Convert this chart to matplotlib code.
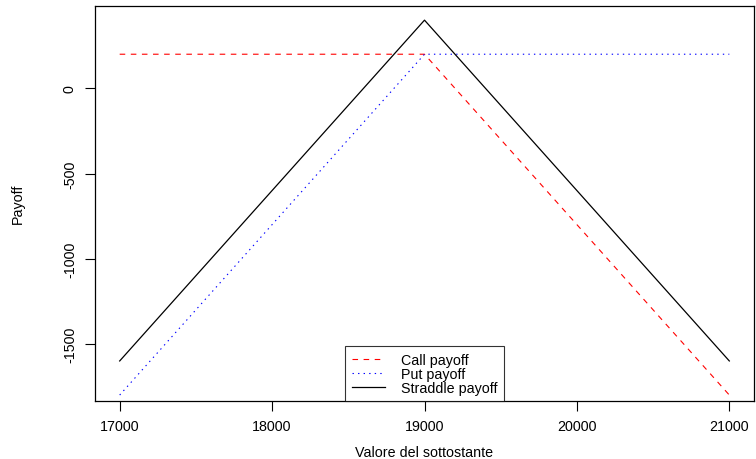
import matplotlib
matplotlib.use("Agg")
import matplotlib.pyplot as plt

plt.rcParams["font.family"] = ["Liberation Sans", "DejaVu Sans"]
plt.rcParams["lines.scale_dashes"] = False

# Short straddle: strike 19000, premium 200 on each leg
spot = [17000, 18000, 19000, 20000, 21000]
call_payoff = [200, 200, 200, -800, -1800]
put_payoff = [-1800, -800, 200, 200, 200]
straddle_payoff = [-1600, -600, 400, -600, -1600]
x_ticks = [17000, 18000, 19000, 20000, 21000]
y_ticks = [-1500, -1000, -500, 0]

fs = 10.3
W, H = 756, 460

fig = plt.figure(figsize=(W / 100, H / 100), dpi=100)
ax = fig.add_axes([95 / W, 58 / H, 659 / W, 395 / H])

ax.plot(spot, call_payoff, color="red", lw=0.8, linestyle=(0, (4, 4)), label="Call payoff")
ax.plot(spot, put_payoff, color="blue", lw=0.8, linestyle=(0, (1, 3)), label="Put payoff")
ax.plot(spot, straddle_payoff, color="black", lw=0.9, label="Straddle payoff")

ax.set_xlim(16838, 21162)
ax.set_ylim(-1835, 483)
ax.set_xticks(x_ticks)
ax.set_yticks(y_ticks)
ax.set_yticklabels([str(v) for v in y_ticks], rotation=90, va="center")
ax.tick_params(direction="out", length=7, width=0.8, labelsize=fs)
ax.tick_params(axis="x", pad=6)
ax.tick_params(axis="y", pad=6)
for s in ax.spines.values():
    s.set_linewidth(0.9)

fig.text(424 / W, 1 - 453 / H, "Valore del sottostante", fontsize=fs,
         ha="center", va="center")
fig.text(18 / W, 1 - 204 / H, "Payoff", fontsize=fs, rotation=90,
         ha="center", va="center")

leg = ax.legend(loc="lower center", fontsize=fs, frameon=True, fancybox=False,
                edgecolor="black", borderaxespad=0, handlelength=2.3,
                labelspacing=0.0, borderpad=0.45, handletextpad=1.1)
leg.get_frame().set_linewidth(0.8)

fig.savefig("out.png", dpi=100)
